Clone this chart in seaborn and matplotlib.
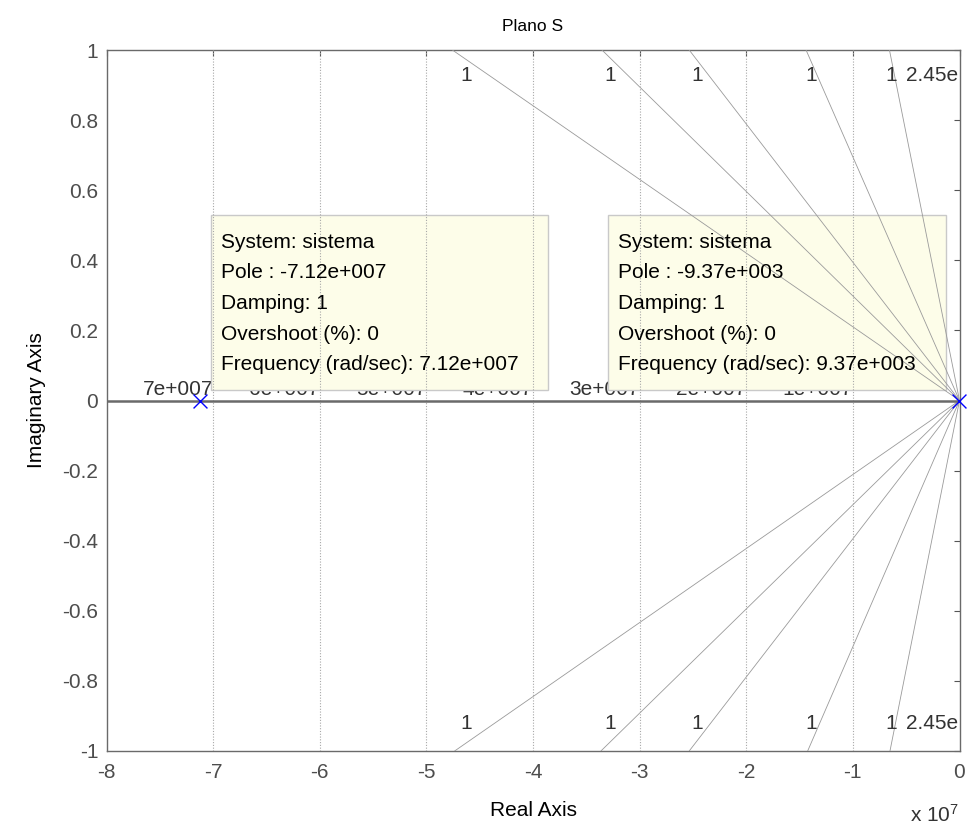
import numpy as np
import pandas as pd
import matplotlib
matplotlib.use("Agg")
import matplotlib.pyplot as plt
import seaborn as sns

# Poles of "sistema" (real part, imaginary part)
pole_re = [-7.12e7, -9.37e3]
pole_im = [0.0, 0.0]

# Data tip contents for each pole
tip_lines = [
    ["System: sistema", "Pole : -7.12e+007", "Damping: 1",
     "Overshoot (%): 0", "Frequency (rad/sec): 7.12e+007"],
    ["System: sistema", "Pole : -9.37e+003", "Damping: 1",
     "Overshoot (%): 0", "Frequency (rad/sec): 9.37e+003"],
]

# Constant natural-frequency grid (rad/s) and their labels
wn_values = [7e7, 6e7, 5e7, 4e7, 3e7, 2e7, 1e7]
wn_labels = ["7e+007", "6e+007", "5e+007", "4e+007", "3e+007", "2e+007", "1e+007"]

# Constant-damping rays: real part where each ray meets Im = +/-1
zeta_re_top = [-4.756e7, -3.353e7, -2.535e7, -1.439e7, -0.657e7]
zeta_re_bottom = [-4.735e7, -3.363e7, -2.535e7, -1.424e7, -0.652e7]
zeta_labels = ["1", "1", "1", "1", "1"]
zeta_label_re = [-4.631e7, -3.275e7, -2.456e7, -1.387e7, -0.642e7]
extra_label = "2.45e"

x_ticks = [-8, -7, -6, -5, -4, -3, -2, -1, 0]
y_ticks = [-1, -0.8, -0.6, -0.4, -0.2, 0, 0.2, 0.4, 0.6, 0.8, 1]
y_tick_labels = ["-1", "-0.8", "-0.6", "-0.4", "-0.2", "0", "0.2", "0.4", "0.6", "0.8", "1"]

sns.set_theme(style="white")
plt.rcParams["font.family"] = ["Liberation Sans", "DejaVu Sans"]
plt.rcParams["mathtext.default"] = "regular"

FS = 15
fig = plt.figure(figsize=(9.73, 8.32), dpi=100)
ax = fig.add_axes([106.5 / 973, 1 - 751 / 832, (959.5 - 106.5) / 973, (751 - 50) / 832])

scale = 1e7
grid_color = "#9a9a9a"

# Constant-damping rays from the origin
rows = []
for i, (xt, xb) in enumerate(zip(zeta_re_top, zeta_re_bottom)):
    for sgn, xr in ((1, xt), (-1, xb)):
        rows.append({"ray": f"{i}{sgn}", "re": 0.0, "im": 0.0})
        rows.append({"ray": f"{i}{sgn}", "re": xr / scale, "im": float(sgn)})
rays = pd.DataFrame(rows)
sns.lineplot(data=rays, x="re", y="im", units="ray", estimator=None, sort=False,
             color=grid_color, linewidth=0.6, ax=ax, legend=False, zorder=3)

# Constant natural-frequency lines (circles seen at this aspect ratio)
for wn, lab in zip(wn_values, wn_labels):
    ax.axvline(-wn / scale, color="#a8a8a8", linestyle=(0, (1, 1.5)), linewidth=0.8, zorder=3)
    ax.text(-wn / scale, 0.016, lab, ha="right", va="baseline", fontsize=FS,
            color="#333333", zorder=1)

# Damping labels
for xr, lab in zip(zeta_label_re, zeta_labels):
    ax.text(xr / scale, 0.927, lab, ha="center", va="center", fontsize=FS, color="#333333")
    ax.text(xr / scale, -0.922, lab, ha="center", va="center", fontsize=FS, color="#333333")
for yv in (0.927, -0.922):
    ax.text(-0.015, yv, extra_label, ha="right", va="center", fontsize=FS, color="#333333")

# Real axis
ax.axhline(0, color="#6a6a6a", linewidth=1.8, zorder=3.5)

# Poles
poles = pd.DataFrame({"re": np.array(pole_re) / scale, "im": pole_im})
sns.scatterplot(data=poles, x="re", y="im", marker="x", color="blue", s=100,
                linewidth=1.0, ax=ax, zorder=6, clip_on=False, legend=False)

# Data tips
box_left = [-7.023, -3.297]
box_right = [-3.859, -0.124]
box_bottom, box_top = 0.031, 0.529
line_y = [0.4495, 0.364, 0.276, 0.188, 0.103]
for bl, br, lines in zip(box_left, box_right, tip_lines):
    ax.add_patch(plt.Rectangle((bl, box_bottom), br - bl, box_top - box_bottom,
                               facecolor="#fdfde9", edgecolor="#c9c9c9",
                               linewidth=1.0, zorder=2))
    for yv, t in zip(line_y, lines):
        ax.text(bl + 0.098, yv, t, ha="left", va="center", fontsize=FS,
                color="black", zorder=5)

ax.set_xlim(-8, 0)
ax.set_ylim(-1, 1)
ax.set_xticks(x_ticks)
ax.set_xticklabels([str(v) for v in x_ticks])
ax.set_yticks(y_ticks)
ax.set_yticklabels(y_tick_labels)
ax.tick_params(direction="in", top=True, right=True, length=4, width=0.8,
               color="#555555", labelcolor="#4d4d4d", labelsize=FS)
ax.tick_params(axis="x", pad=9)
ax.tick_params(axis="y", pad=6)
for sp in ax.spines.values():
    sp.set_color("#6a6a6a")
    sp.set_linewidth(1.0)

ax.set_title("Plano S", fontsize=12.5, color="black", pad=14)
ax.set_xlabel("Real Axis", fontsize=FS, color="black", labelpad=13)
ax.set_ylabel("Imaginary Axis", fontsize=FS, color="black", labelpad=12)
fig.text(910 / 973, 1 - 822 / 832, "x 10$^{7}$", fontsize=FS, color="#333333",
         ha="left", va="baseline")

fig.savefig("out.png", dpi=100)
